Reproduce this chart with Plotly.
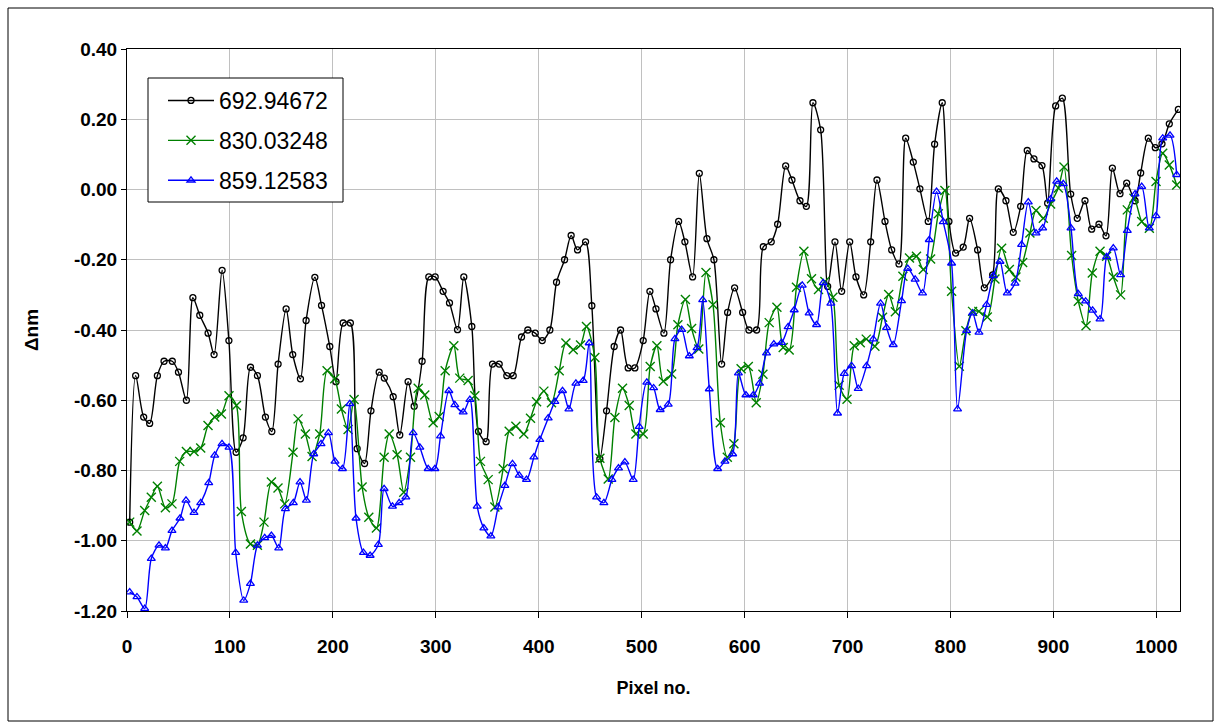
import plotly.graph_objects as go

# ---- data ----
pix_a = [2.6, 8.4, 16.2, 22, 29.5, 36, 44, 50, 57.7, 64, 70.7, 78.8, 84.6, 92.4, 99, 106, 112.8, 120, 126.7, 134.5,
         140.7, 146.8, 154.6, 161, 168.5, 174, 182.5, 189, 197, 203, 210, 217, 223.6, 230.8, 237, 245, 250, 258.6,
         265, 273.1, 279, 286.7, 293.2, 299.4, 307.1, 313.3, 321.1, 327.2, 335, 341.5, 348.9, 355.1, 361.6, 369,
         375.2, 383.3, 389.4, 396.6, 403.4, 410.8, 417.3, 425.1, 431.5, 437.7, 445.5, 451.6, 459.4, 465.9, 473.3,
         479.5, 486.9, 493.4, 501.5, 508, 513.9, 521.6, 528.1, 535.9, 542, 549.5, 556, 563.4, 570.2, 577.7, 583.5,
         590.3, 598.1, 604.2, 611.7, 618.2, 625.9, 632.1, 639.9, 646, 653.8, 660, 666.4, 673.9, 680.7, 687.8,
         694.3, 702.1, 708.2, 715.7, 722.5, 728.6, 736.4, 742.9, 750, 756.5, 763.9, 770.3, 778.4, 784.6, 792,
         798.5, 805, 812.4, 818.6, 826.4, 832.9, 841, 846.5, 853.9, 861, 868.2, 874.6, 881.1, 888.9, 894.4, 902.2,
         908.7, 916.8, 923.2, 930.7, 937.2, 944.3, 951.1, 957.3, 964.7, 971.2, 979.3, 984.8, 992.2, 999, 1005.5,
         1012.6, 1021.4]
val_a = [-0.947, -0.53, -0.648, -0.666, -0.53, -0.489, -0.489, -0.52, -0.6, -0.308, -0.358, -0.409, -0.47, -0.23,
         -0.43, -0.748, -0.707, -0.506, -0.53, -0.648, -0.689, -0.497, -0.34, -0.47, -0.539, -0.373, -0.25, -0.33,
         -0.447, -0.547, -0.38, -0.38, -0.738, -0.78, -0.63, -0.52, -0.537, -0.59, -0.699, -0.547, -0.617, -0.489,
         -0.249, -0.249, -0.29, -0.323, -0.399, -0.249, -0.39, -0.689, -0.718, -0.497, -0.497, -0.53, -0.53, -0.42,
         -0.4, -0.409, -0.43, -0.4, -0.264, -0.2, -0.131, -0.172, -0.149, -0.331, -0.767, -0.63, -0.447, -0.4,
         -0.508, -0.508, -0.43, -0.29, -0.34, -0.409, -0.2, -0.091, -0.149, -0.249, 0.046, -0.14, -0.2, -0.497,
         -0.35, -0.28, -0.35, -0.4, -0.4, -0.163, -0.149, -0.099, 0.067, 0.027, -0.032, -0.048, 0.247, 0.17,
         -0.276, -0.149, -0.29, -0.149, -0.249, -0.3, -0.149, 0.027, -0.091, -0.172, -0.212, 0.146, 0.078, 0.002,
         -0.091, 0.129, 0.247, -0.091, -0.181, -0.164, -0.082, -0.172, -0.28, -0.243, 0.002, -0.032, -0.122,
         -0.048, 0.111, 0.087, 0.068, -0.039, 0.238, 0.26, -0.013, -0.082, -0.032, -0.113, -0.099, -0.132, 0.061,
         -0.012, 0.018, -0.032, 0.047, 0.146, 0.119, 0.13, 0.187, 0.228]

pix_b = [2.6, 9.7, 17.2, 23.6, 29.5, 37.3, 43.7, 51.2, 57.7, 65.1, 71.6, 78.7, 85.2, 91.7, 99.1, 106.3, 111.1, 119.9,
         126.7, 133.1, 140.3, 146.7, 153.2, 161.3, 166.2, 173.3, 179.8, 187.2, 194.4, 201.8, 208.3, 214.8, 220.6,
         228.4, 234.9, 242.3, 249.8, 254.7, 262.4, 268.9, 275.4, 282.9, 289.3, 297.4, 303.3, 309.1, 317.5, 323.3,
         331.4, 337.9, 343.4, 350.9, 357.4, 365.5, 371.3, 377.8, 385.5, 392, 397.9, 405, 412.4, 419.9, 426.4,
         433.5, 440.6, 446.4, 454.5, 459.4, 467.5, 474, 481.4, 487.9, 494.4, 501.5, 508.3, 514.8, 521, 529.1,
         535.2, 542.5, 548.5, 555.5, 562.5, 569.3, 576.4, 583.2, 589.6, 596.6, 603.6, 611.3, 617.8, 623.9, 631.4,
         637.5, 643.3, 650.4, 657.6, 665, 671.8, 678, 685.8, 691.9, 699.5, 706.5, 712.4, 718.2, 726.6, 734, 740,
         746.5, 753.8, 760.2, 767, 773.6, 780.7, 788.2, 794.6, 801.1, 808.6, 815, 821.5, 827.6, 835.8, 843.2,
         849.7, 857.2, 863.6, 870.1, 877.2, 883.1, 890.2, 897.3, 904.8, 910.3, 917.7, 924.2, 931.7, 937.8, 945.3,
         951.7, 958.2, 965.3, 971.8, 978.3, 985.8, 993.2, 999.7, 1006.2, 1012.6, 1019.8]
val_b = [-0.947, -0.972, -0.914, -0.876, -0.845, -0.906, -0.895, -0.774, -0.746, -0.746, -0.736, -0.672, -0.648,
         -0.639, -0.587, -0.615, -0.917, -1.009, -1.013, -0.947, -0.833, -0.85, -0.895, -0.748, -0.653, -0.696,
         -0.76, -0.696, -0.516, -0.539, -0.625, -0.683, -0.598, -0.847, -0.933, -0.964, -0.762, -0.696, -0.755,
         -0.862, -0.762, -0.566, -0.585, -0.664, -0.646, -0.516, -0.445, -0.537, -0.544, -0.587, -0.774, -0.826,
         -0.904, -0.795, -0.688, -0.674, -0.696, -0.651, -0.604, -0.574, -0.607, -0.516, -0.437, -0.456, -0.443,
         -0.39, -0.478, -0.765, -0.824, -0.649, -0.566, -0.615, -0.696, -0.696, -0.504, -0.445, -0.546, -0.525,
         -0.385, -0.313, -0.396, -0.454, -0.236, -0.328, -0.664, -0.762, -0.724, -0.51, -0.504, -0.607, -0.526,
         -0.379, -0.335, -0.45, -0.457, -0.278, -0.176, -0.254, -0.285, -0.262, -0.307, -0.557, -0.597, -0.445,
         -0.436, -0.426, -0.446, -0.364, -0.299, -0.348, -0.247, -0.195, -0.19, -0.228, -0.198, -0.069, -0.003,
         -0.29, -0.503, -0.402, -0.347, -0.347, -0.363, -0.255, -0.167, -0.228, -0.249, -0.208, -0.124, -0.06,
         -0.082, -0.041, 0.004, 0.064, -0.188, -0.318, -0.388, -0.238, -0.176, -0.19, -0.249, -0.3, -0.058,
         -0.025, -0.091, -0.11, 0.023, 0.103, 0.07, 0.013]

pix_c = [2.6, 9.7, 17.2, 23.6, 31.1, 37.3, 43.7, 51.5, 57.3, 65.1, 71.6, 79.4, 85.2, 92.3, 99.1, 105.6, 113.4, 119.9,
         126.7, 133.8, 140.3, 147.4, 153.9, 161.6, 168.1, 174.3, 181.4, 188.5, 195.7, 202.1, 209.3, 216.4, 222.5,
         229.7, 236.2, 244.2, 249.8, 257.9, 264.4, 270.9, 278, 284.5, 292.6, 299.1, 304.6, 312.7, 318.5, 326.6,
         333.1, 340.2, 346.7, 353.5, 360.6, 367.1, 374.5, 381, 388.1, 395.3, 401.1, 409.2, 415.7, 423.1, 429.3,
         436.1, 443.2, 449, 456.2, 463.3, 471.1, 477.5, 483.7, 491.8, 497.6, 505, 511.6, 518, 525.8, 532.3, 538.9,
         546.3, 553.8, 559.3, 565.7, 573.8, 580.9, 588.4, 594, 601.3, 608.4, 614.5, 621.3, 628.4, 635.9, 642.3,
         648.2, 656, 662.7, 669.9, 676.4, 683.8, 690.3, 696.8, 703.9, 710.4, 718.5, 725, 732.1, 737.9, 744.4,
         752.5, 758.5, 765.7, 772.9, 779.4, 786.5, 793, 801.1, 806.9, 815.7, 821.5, 827.7, 835.1, 841.6, 848.1,
         855.2, 862.7, 869.1, 875.6, 883.1, 889.6, 897.3, 903.2, 909.6, 917.1, 924.2, 931.3, 938.1, 945.3, 951.7,
         958.2, 965.3, 971.8, 979.3, 985.8, 993.2, 999.7, 1006.2, 1013.3, 1019.8]
val_c = [-1.146, -1.16, -1.193, -1.051, -1.013, -1.021, -0.971, -0.936, -0.885, -0.92, -0.892, -0.835, -0.757,
         -0.724, -0.734, -1.034, -1.17, -1.122, -1.013, -0.992, -0.985, -1.021, -0.909, -0.892, -0.833, -0.885,
         -0.753, -0.724, -0.693, -0.774, -0.795, -0.61, -0.936, -1.034, -1.042, -1.011, -0.852, -0.902, -0.892,
         -0.876, -0.693, -0.734, -0.795, -0.795, -0.702, -0.573, -0.613, -0.634, -0.598, -0.902, -0.964, -0.987,
         -0.904, -0.843, -0.781, -0.814, -0.826, -0.762, -0.712, -0.651, -0.604, -0.573, -0.625, -0.552, -0.544,
         -0.437, -0.876, -0.892, -0.826, -0.793, -0.776, -0.826, -0.675, -0.549, -0.565, -0.627, -0.612, -0.425,
         -0.399, -0.474, -0.451, -0.314, -0.568, -0.795, -0.774, -0.753, -0.523, -0.585, -0.585, -0.552, -0.466,
         -0.44, -0.436, -0.391, -0.343, -0.273, -0.352, -0.385, -0.266, -0.324, -0.637, -0.524, -0.502, -0.567,
         -0.502, -0.426, -0.324, -0.393, -0.442, -0.317, -0.225, -0.256, -0.295, -0.143, -0.006, -0.092, -0.21,
         -0.625, -0.402, -0.352, -0.407, -0.328, -0.246, -0.205, -0.295, -0.267, -0.157, -0.036, -0.124, -0.11,
         -0.027, 0.023, 0.016, -0.11, -0.297, -0.318, -0.344, -0.369, -0.192, -0.167, -0.243, -0.117, -0.013,
         0.008, -0.11, -0.075, 0.146, 0.154, 0.042]

series_names = ["692.94672", "830.03248", "859.12583"]
y_ticks = [-1.2, -1.0, -0.8, -0.6, -0.4, -0.2, 0.0, 0.2, 0.4]
y_tick_labels = ["-1.20", "-1.00", "-0.80", "-0.60", "-0.40", "-0.20", "0.00", "0.20", "0.40"]
x_ticks = [0, 100, 200, 300, 400, 500, 600, 700, 800, 900, 1000]

FONT = "Liberation Sans, Arial, sans-serif"

fig = go.Figure()
fig.add_trace(go.Scatter(
    x=pix_a, y=val_a, name=series_names[0], mode="lines+markers", legendgroup="a",
    line=dict(color="#000000", width=1.4, shape="spline", smoothing=0.8),
    marker=dict(symbol="circle-open", size=6, color="#000000", line=dict(width=1.3, color="#000000"))))
fig.add_trace(go.Scatter(
    x=pix_b, y=val_b, name=series_names[1], mode="lines+markers", legendgroup="b",
    line=dict(color="#008000", width=1.4, shape="spline", smoothing=0.8),
    marker=dict(symbol="x-thin-open", size=9, color="#008000", line=dict(width=1.4, color="#008000"))))
fig.add_trace(go.Scatter(
    x=pix_c, y=val_c, name=series_names[2], mode="lines+markers", legendgroup="c",
    line=dict(color="#0000FF", width=1.4, shape="spline", smoothing=0.8),
    marker=dict(symbol="triangle-up-open", size=7, color="#0000FF", line=dict(width=1.3, color="#0000FF"))))

L, R, T, B = 127, 43, 49, 112
W, H = 1223, 723
pw, ph = W - L - R, H - T - B

def px_x(p):
    return (p - L) / pw

def px_y(p):
    return (H - B - p) / ph

# outer chart-area border
fig.add_shape(type="rect", xref="paper", yref="paper",
              x0=px_x(8), x1=px_x(1213), y0=px_y(721), y1=px_y(8),
              line=dict(color="#000000", width=1), fillcolor="rgba(0,0,0,0)", layer="below")
# legend box
fig.add_shape(type="rect", xref="paper", yref="paper",
              x0=px_x(148), x1=px_x(343), y0=px_y(202), y1=px_y(78),
              line=dict(color="#000000", width=1), fillcolor="white", layer="above")

fig.update_layout(
    width=W, height=H,
    margin=dict(l=L, r=R, t=T, b=B, autoexpand=False),
    paper_bgcolor="white", plot_bgcolor="white",
    font=dict(family=FONT, color="#000000"),
    showlegend=True,
    legend=dict(x=px_x(163), y=px_y(79), xanchor="left", yanchor="top",
                borderwidth=0, bgcolor="rgba(0,0,0,0)",
                font=dict(family=FONT, size=23, color="#000000"),
                itemwidth=46, tracegroupgap=7, traceorder="grouped"),
    xaxis=dict(range=[0, 1023], tickvals=x_ticks, showgrid=True, gridcolor="#c0c0c0", gridwidth=1,
               showline=True, linecolor="#000000", linewidth=1, mirror=True,
               ticks="outside", ticklen=6, tickcolor="#000000", zeroline=False, ticklabelstandoff=12,
               tickfont=dict(family=FONT, size=19, color="#000000", weight="bold"),
               title=dict(text="<b>Pixel no.</b>", font=dict(family=FONT, size=18, color="#000000"), standoff=25)),
    yaxis=dict(range=[-1.2, 0.4], tickvals=y_ticks, ticktext=y_tick_labels, showgrid=True,
               gridcolor="#c0c0c0", gridwidth=1,
               showline=True, linecolor="#000000", linewidth=1, mirror=True,
               ticks="outside", ticklen=5, tickcolor="#000000", zeroline=False,
               tickfont=dict(family=FONT, size=19, color="#000000", weight="bold"),
               title=dict(text="<b>Δnm</b>", font=dict(family=FONT, size=19, color="#000000"), standoff=30)),
)

fig.write_html("out.html")
